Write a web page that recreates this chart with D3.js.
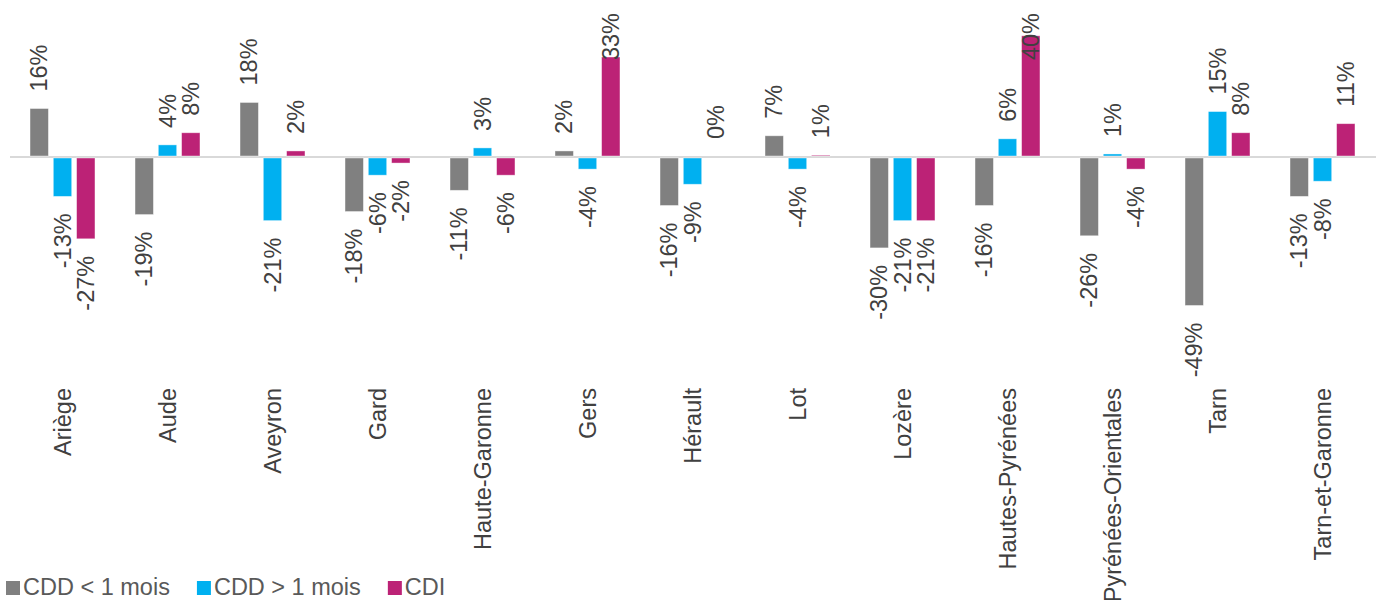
<!DOCTYPE html>
<html>
<head>
<meta charset="utf-8">
<script src="https://cdn.jsdelivr.net/npm/d3@7"></script>
<style>
  body { margin: 0; background: #fff; }
  svg { display: block; font-family: "Liberation Sans", Arial, sans-serif; }
</style>
</head>
<body>
<svg id="chart" width="1380" height="600"></svg>
<script>
var categories = ["Ariège", "Aude", "Aveyron", "Gard", "Haute-Garonne", "Gers", "Hérault",
  "Lot", "Lozère", "Hautes-Pyrénées", "Pyrénées-Orientales", "Tarn", "Tarn-et-Garonne"];
var seriesNames = ["CDD < 1 mois", "CDD > 1 mois", "CDI"];
var cddShort = [16, -19, 18, -18, -11, 2, -16, 7, -30, -16, -26, -49, -13];
var cddLong  = [-13, 4, -21, -6, 3, -4, -9, -4, -21, 6, 1, 15, -8];
var cdi      = [-27, 8, 2, -2, -6, 33, 0.3, 0.6, -21, 40, -4, 8, 11];
var colors = ["#808080", "#00B0F0", "#BC2276"];

var svg = d3.select("#chart"),
    fontSize = 23.5,
    labelColor = "#404040";

var data = categories.map(function (c, i) {
  return { cat: c, values: [cddShort[i], cddLong[i], cdi[i]] };
});

var x0 = d3.scaleBand().domain(categories).range([10, 1375]);
var x1 = d3.scaleBand().domain([0, 1, 2]).range([0, x0.bandwidth()])
    .paddingInner(0.21).paddingOuter(0.86);
var y = d3.scaleLinear().domain([-50, 40]).range([157 + 50 * 3.03, 157 - 40 * 3.03]);

// zero line
svg.append("line")
  .attr("x1", 10).attr("x2", 1376)
  .attr("y1", y(0)).attr("y2", y(0))
  .attr("stroke", "#d9d9d9").attr("stroke-width", 2);

var group = svg.append("g").selectAll("g")
  .data(data)
  .enter().append("g")
  .attr("transform", function (d) { return "translate(" + x0(d.cat) + ",0)"; });

var cells = group.selectAll("g")
  .data(function (d) { return d.values.map(function (v, k) { return { k: k, v: v }; }); })
  .enter().append("g");

cells.append("rect")
  .attr("x", function (d) { return x1(d.k); })
  .attr("width", x1.bandwidth())
  .attr("y", function (d) { return d.v >= 0 ? y(d.v) : y(0) + 1; })
  .attr("height", function (d) { return Math.abs(y(d.v) - y(0)) - (d.v >= 0 ? 1 : 1); })
  .attr("fill", function (d) { return colors[d.k]; })
  .attr("stroke", "#ffffff").attr("stroke-opacity", 0.5).attr("stroke-width", 0.8);

// rotated value labels
cells.append("text")
  .attr("font-size", fontSize)
  .attr("fill", labelColor)
  .attr("dy", "0.35em")
  .attr("text-anchor", function (d) { return d.v >= 0 ? "start" : "end"; })
  .text(function (d) { return Math.round(d.v) + "%"; })
  .each(function (d) {
    var cx = x1(d.k) + x1.bandwidth() / 2,
        len = this.getComputedTextLength(),
        pos;
    if (d.v >= 0) {
      pos = y(d.v) - 17;
      if (pos - len < 13) pos = 13 + len;
    } else {
      pos = y(d.v) + 17;
    }
    d3.select(this).attr("transform", "translate(" + cx + "," + pos + ") rotate(-90)");
  });

// category labels
svg.append("g").selectAll("text")
  .data(categories)
  .enter().append("text")
  .attr("font-size", fontSize)
  .attr("fill", labelColor)
  .attr("dy", "0.35em")
  .attr("text-anchor", "end")
  .attr("transform", function (d) { return "translate(" + (x0(d) + x0.bandwidth() / 2) + ",388) rotate(-90)"; })
  .text(function (d) { return d; });

// legend
var lx = 6;
seriesNames.forEach(function (name, k) {
  svg.append("rect")
    .attr("x", lx).attr("y", 581)
    .attr("width", 14).attr("height", 14)
    .attr("fill", colors[k]);
  var t = svg.append("text")
    .attr("x", lx + 17).attr("y", 595)
    .attr("font-size", fontSize)
    .attr("fill", "#595959")
    .text(name);
  lx += 17 + t.node().getComputedTextLength() + 27;
});
</script>
</body>
</html>
